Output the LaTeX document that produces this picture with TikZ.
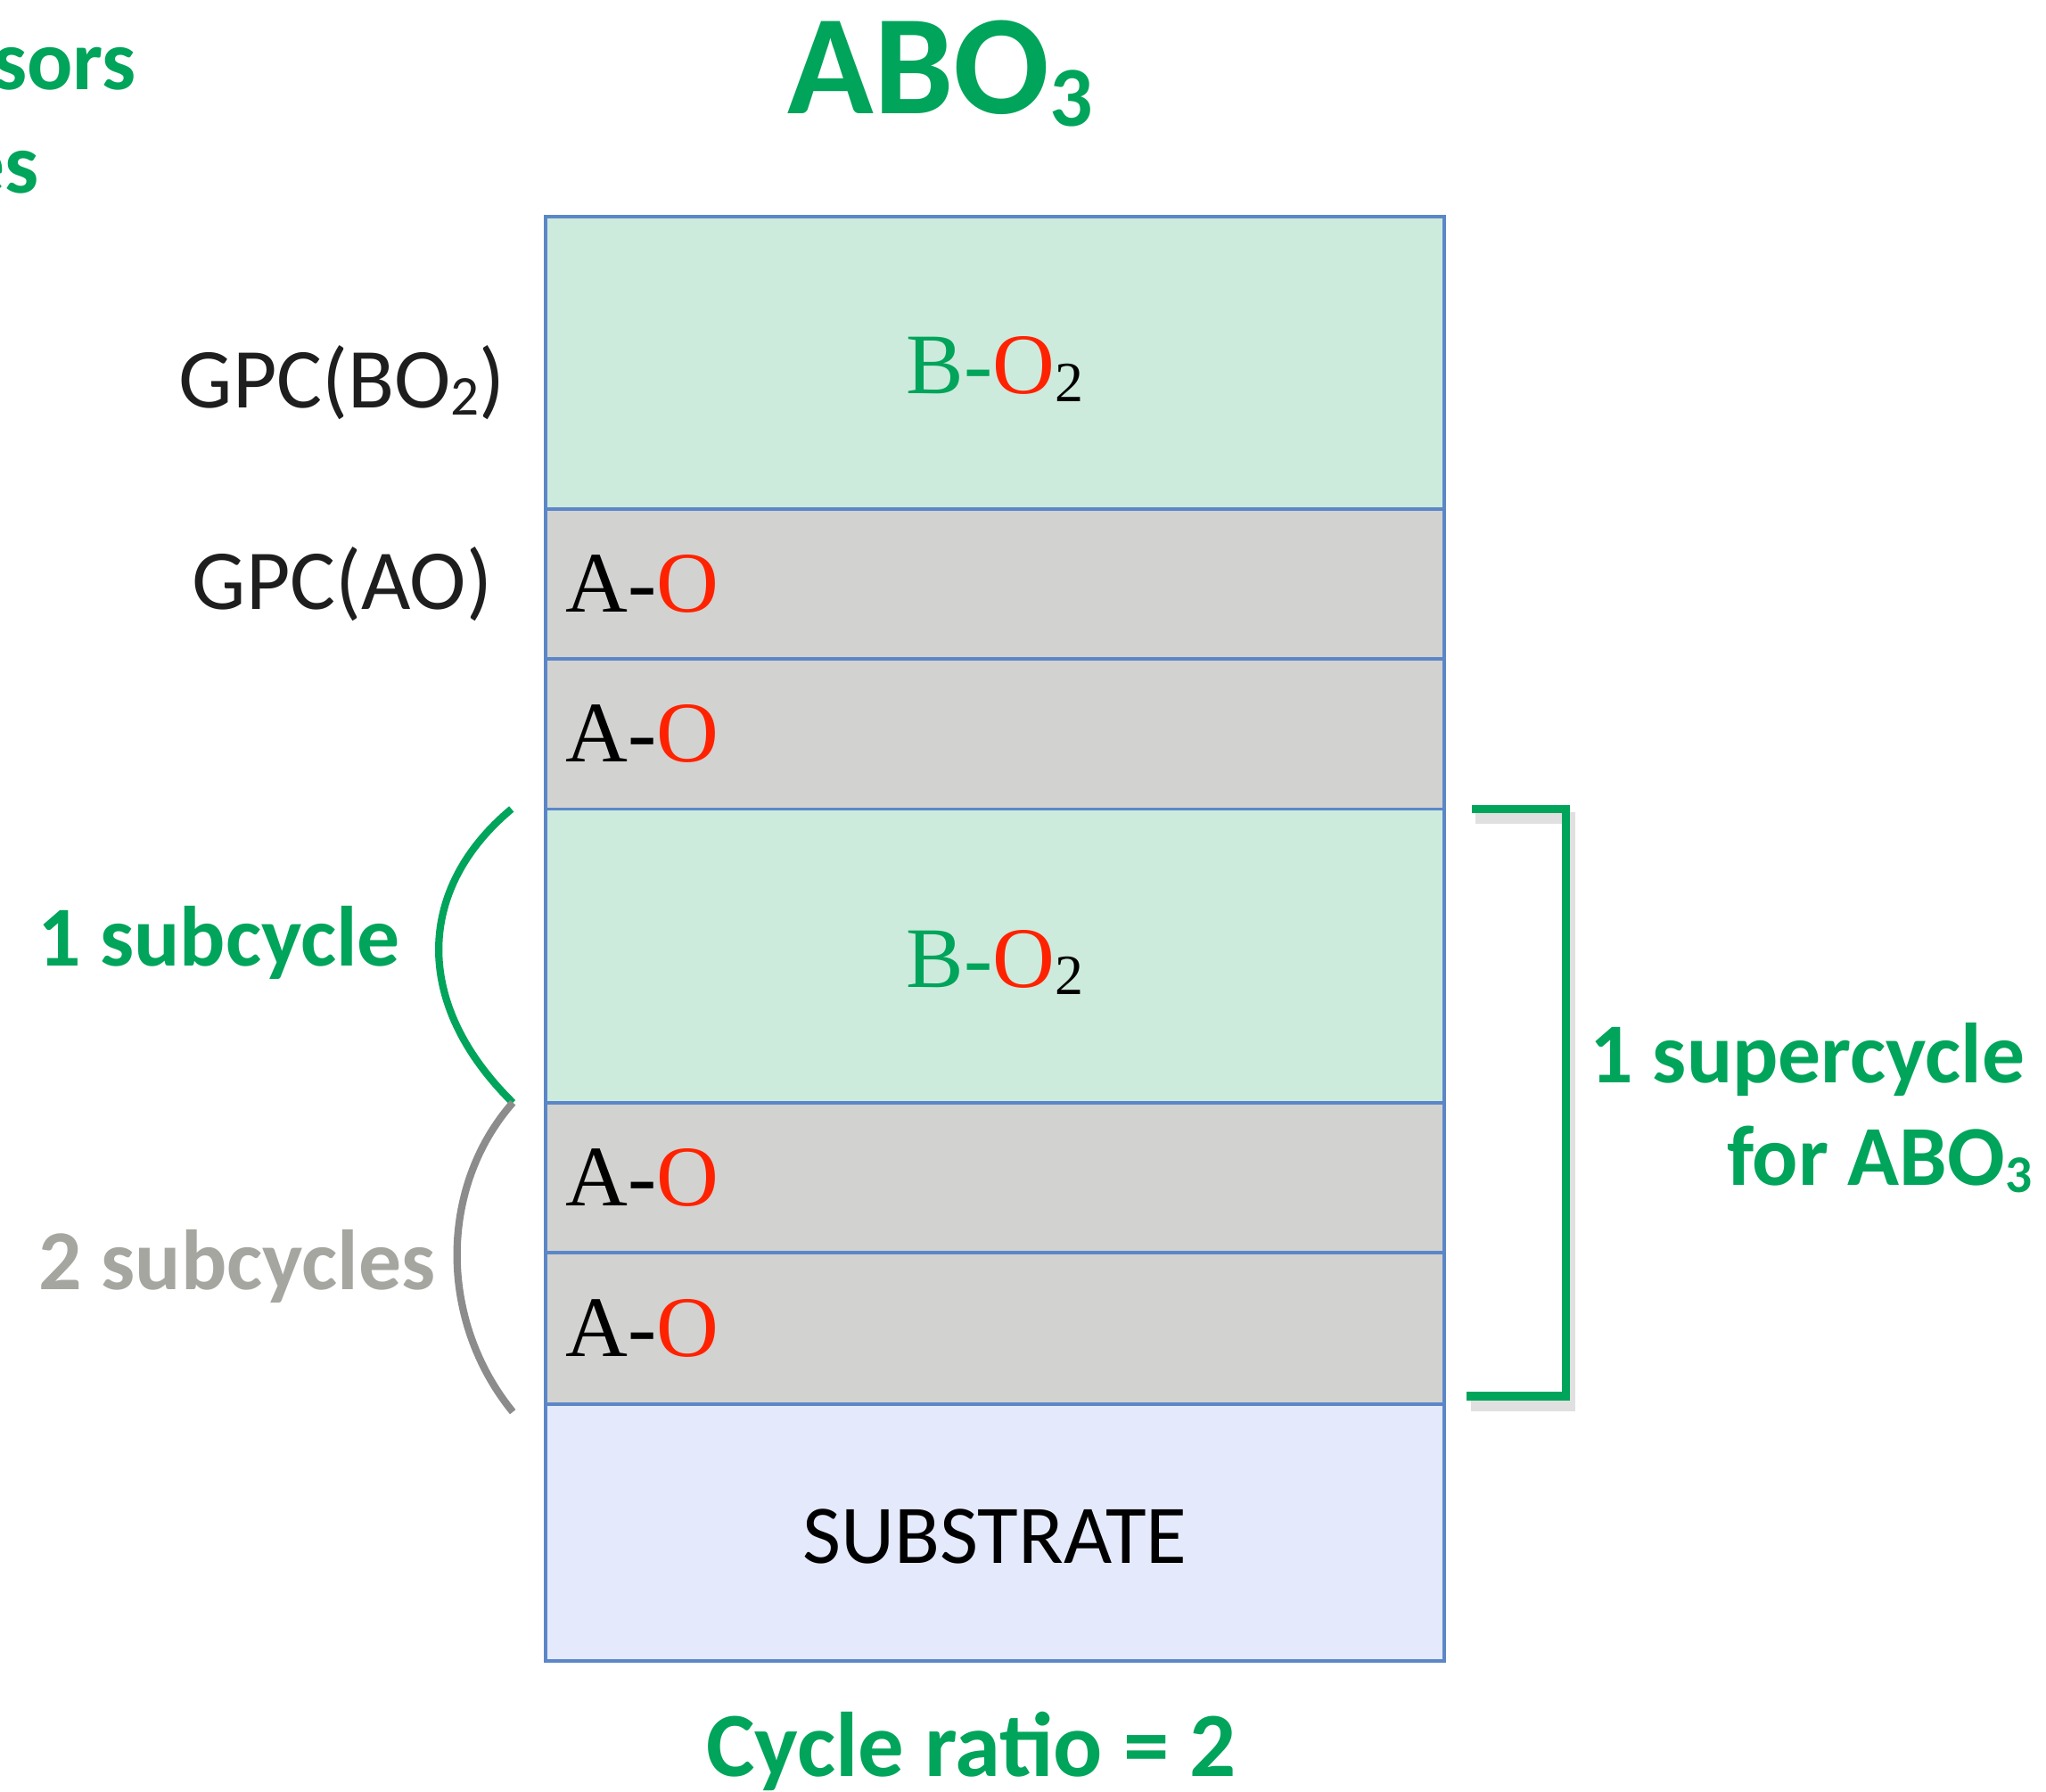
\documentclass[tikz,border=0pt]{standalone}
\usepackage{fontspec}
\setmainfont{Liberation Serif}
\setsansfont{Carlito}
\usetikzlibrary{positioning}

\definecolor{abogreen}{RGB}{0,164,90}
\definecolor{ored}{RGB}{255,34,0}
\definecolor{bofill}{RGB}{204,235,221}
\definecolor{aofill}{RGB}{210,210,208}
\definecolor{subfill}{RGB}{228,233,251}
\definecolor{edgeblue}{RGB}{91,135,200}
\definecolor{gpcblack}{RGB}{30,30,30}
\definecolor{greytext}{RGB}{166,166,161}
\definecolor{greybrace}{RGB}{140,140,140}

\newcommand{\oxy}{\textcolor{ored}{O}}
\newcommand{\lowidx}[2][0.66]{\raisebox{-0.09em}{\scalebox{#1}{#2}}}

\begin{document}
\begin{tikzpicture}[
  font=\sffamily,
  layer/.style={draw=edgeblue, line width=0.7pt, minimum width=6.89cm, inner sep=0pt, outer sep=0pt},
  formula/.style={font=\rmfamily\fontsize{18.8}{22}\selectfont, inner sep=0pt},
  gpc/.style={font=\sffamily\fontsize{18.6}{22}\selectfont, text=gpcblack, inner sep=0pt},
  tag/.style={font=\sffamily\bfseries\fontsize{18.6}{22}\selectfont, text=abogreen, inner sep=0pt},
  brace/.style={line width=1.6pt},
  bracket/.style={abogreen, line width=1.9pt}
]

\useasboundingbox (0,0) rectangle (15.68,13.73);

% Title and the cut-off words at the top left.
\node[font=\sffamily\bfseries\fontsize{31}{36}\selectfont, text=abogreen, anchor=base west, inner sep=0pt]
  (title) at (6.03,12.86) {ABO\lowidx[0.6]{3}};
\node[tag, anchor=base west] (cutone) at (-0.06,13.04) {sors};
\node[tag, anchor=base west] (cuttwo) at (-0.30,12.25) {es};

% --------------------------------------------------------------------------
% Layer stack, top to bottom.
% --------------------------------------------------------------------------
\node[layer, fill=bofill, minimum height=2.24cm] (bo1) at (7.625,10.95) {};
\node[layer, fill=aofill, minimum height=1.15cm, below=0pt of bo1] (ao1) {};
\node[layer, fill=aofill, minimum height=1.15cm, below=0pt of ao1] (ao2) {};
\node[layer, fill=bofill, minimum height=2.25cm, below=0pt of ao2] (bo2) {};
\node[layer, fill=aofill, minimum height=1.15cm, below=0pt of bo2] (ao3) {};
\node[layer, fill=aofill, minimum height=1.16cm, below=0pt of ao3] (ao4) {};
\node[layer, fill=subfill, minimum height=1.97cm, below=0pt of ao4] (sub) {};

% Layer texts.
\foreach \nm in {bo1,bo2}
  \node[formula, yshift=-0.05cm] (\nm-txt) at (\nm)
    {\textcolor{abogreen}{B-}\oxy\lowidx{2}};
\foreach \nm in {ao1,ao2,ao3,ao4}
  \node[formula, anchor=west] (\nm-txt) at ([xshift=0.15cm]\nm.west) {A-\oxy};
\node[font=\sffamily\fontsize{18.2}{22}\selectfont, inner sep=0pt] (sub-txt) at ([yshift=-0.03cm]sub) {SUBSTRATE};

% Pulse names on the left.
\node[gpc, left=0.30cm of bo1, yshift=-0.15cm] (gpcbo) {GPC(BO\lowidx{2})};
\node[gpc, left=0.40cm of ao1] (gpcao) {GPC(AO)};

% --------------------------------------------------------------------------
% Subcycles (left) and supercycle (right).
% --------------------------------------------------------------------------
\draw[brace, abogreen] ([xshift=-0.26cm]bo2.north west)
  .. controls +(-0.72,-0.60) and +(-0.78,0.77) .. ([xshift=-0.25cm]bo2.south west);
\draw[brace, greybrace] ([xshift=-0.25cm]ao3.north west)
  .. controls +(-0.57,-0.65) and +(-0.57,0.70) .. ([xshift=-0.25cm,yshift=-0.06cm]ao4.south west);
\node[tag, anchor=base west] (onesub) at (0.28,6.33) {1 subcycle};
\node[tag, text=greytext, anchor=base west] (twosub) at (0.29,3.85) {2 subcycles};

\draw[black!12, line width=2.6pt, transform canvas={shift={(0.03,-0.07)}}]
  ([xshift=0.21cm]bo2.north east) -| ([xshift=0.93cm,yshift=0.06cm]ao4.south east)
  -- ([xshift=0.17cm,yshift=0.06cm]ao4.south east);
\draw[bracket] ([xshift=0.21cm]bo2.north east) -| ([xshift=0.93cm,yshift=0.06cm]ao4.south east)
  -- ([xshift=0.17cm,yshift=0.06cm]ao4.south east);
\node[tag, anchor=base west] (super) at (12.18,5.43) {1 supercycle};
\node[tag, anchor=base east] (forabo) at (15.58,4.65) {for ABO\lowidx[0.62]{3}};

% Ratio under the stack.
\node[font=\sffamily\bfseries\fontsize{20}{24}\selectfont, text=abogreen, anchor=base, inner sep=0pt]
  (ratio) at (7.445,0.12) {Cycle ratio = 2};

\end{tikzpicture}
\end{document}
